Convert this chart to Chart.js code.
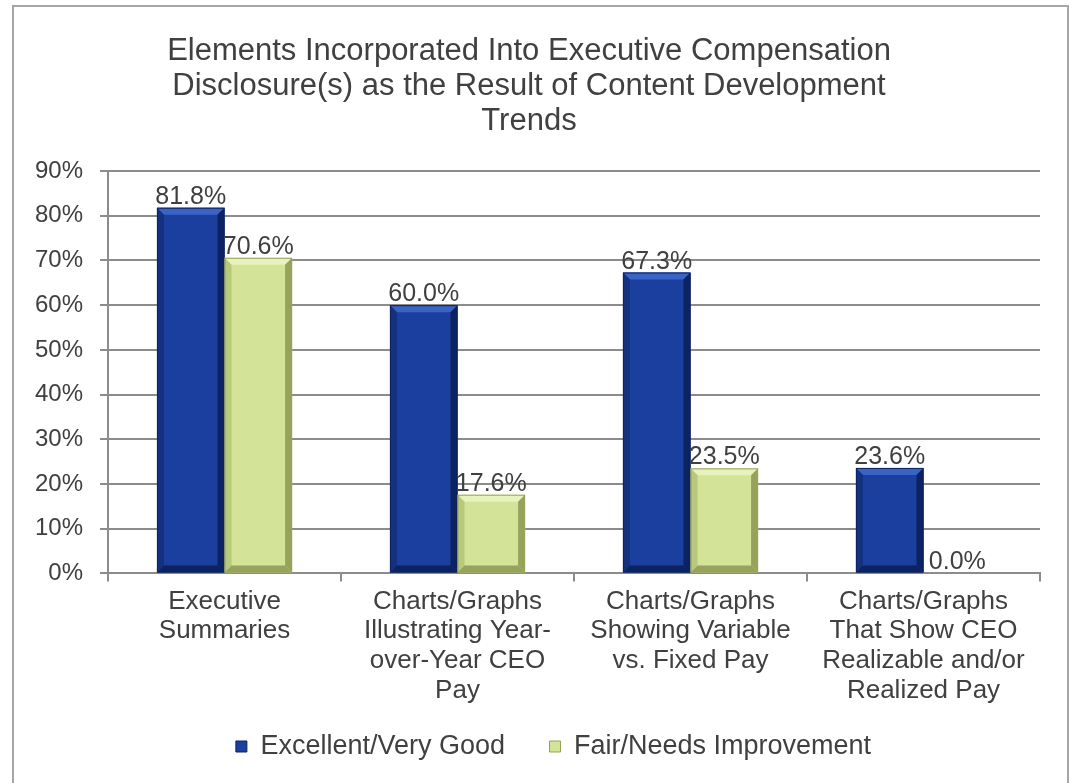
<!DOCTYPE html>
<html>
<head>
<meta charset="utf-8">
<script src="https://cdn.jsdelivr.net/npm/chart.js@4.4.1/dist/chart.umd.min.js"></script>
<style>
    html, body { margin: 0; padding: 0; background: #fff; }
    #wrap { width: 1069px; height: 783px; position: relative; }
</style>
</head>
<body>
<div id="wrap"><canvas id="chart"></canvas></div>
<script>
const categories = [
    ['Executive', 'Summaries'],
    ['Charts/Graphs', 'Illustrating Year-', 'over-Year CEO', 'Pay'],
    ['Charts/Graphs', 'Showing Variable', 'vs. Fixed Pay'],
    ['Charts/Graphs', 'That Show CEO', 'Realizable and/or', 'Realized Pay']
];
const excellent = [81.8, 60.0, 67.3, 23.6];
const fair = [70.6, 17.6, 23.5, 0.0];
const yTicks = [0, 10, 20, 30, 40, 50, 60, 70, 80, 90];

const textColor = '#404040';
const gridColor = '#8c8c8c';
const fontFamily = '"Liberation Sans", Arial, sans-serif';

// light, base, side, dark shades for the bevelled bars
const shades = [
    { light: '#3b63c4', base: '#1b3f9f', side: '#14317f', dark: '#0c2261' },
    { light: '#e8f2bd', base: '#d3e398', side: '#b9c97c', dark: '#97a35c' }
];

// frame round the whole chart
const framePlugin = {
    id: 'frame',
    beforeDraw(chart) {
        const ctx = chart.ctx;
        ctx.save();
        ctx.strokeStyle = '#a6a6a6';
        ctx.lineWidth = 2;
        ctx.strokeRect(13, 6, 1055, 800);
        ctx.restore();
    }
};

// legend sits a bit right of the plot centre in the original
const legendShift = {
    id: 'legendShift',
    afterLayout(chart) {
        if (chart.legend) chart.legend.left += 49;
    }
};

// bevel edges on the bars
const bevelPlugin = {
    id: 'bevel',
    afterDatasetsDraw(chart) {
        const ctx = chart.ctx;
        chart.data.datasets.forEach((ds, i) => {
            const meta = chart.getDatasetMeta(i);
            const c = shades[i];
            meta.data.forEach(bar => {
                const l = bar.x - bar.width / 2, r = bar.x + bar.width / 2;
                const t = bar.y, b = bar.base;
                const h = b - t;
                if (h < 2) return;
                const e = Math.min(7, h / 2);
                ctx.save();
                const quad = (pts, col) => {
                    ctx.beginPath();
                    ctx.moveTo(pts[0][0], pts[0][1]);
                    for (let k = 1; k < pts.length; k++) ctx.lineTo(pts[k][0], pts[k][1]);
                    ctx.closePath();
                    ctx.fillStyle = col;
                    ctx.fill();
                };
                quad([[l, t], [r, t], [r - e, t + e], [l + e, t + e]], c.light);
                quad([[l, t], [l + e, t + e], [l + e, b - e], [l, b]], c.side);
                quad([[r, t], [r - e, t + e], [r - e, b - e], [r, b]], c.dark);
                quad([[l, b], [l + e, b - e], [r - e, b - e], [r, b]], c.dark);
                ctx.strokeStyle = c.dark;
                ctx.lineWidth = 1;
                ctx.strokeRect(l + 0.5, t + 0.5, r - l - 1, h - 1);
                ctx.restore();
            });
        });
    }
};

// value labels above bars
const valueLabels = {
    id: 'valueLabels',
    afterDatasetsDraw(chart) {
        const ctx = chart.ctx;
        ctx.save();
        ctx.font = '25px ' + fontFamily;
        ctx.fillStyle = textColor;
        ctx.textAlign = 'center';
        ctx.textBaseline = 'alphabetic';
        chart.data.datasets.forEach((ds, i) => {
            chart.getDatasetMeta(i).data.forEach((bar, j) => {
                ctx.fillText(ds.data[j].toFixed(1) + '%', bar.x, bar.y - 4);
            });
        });
        ctx.restore();
    }
};

new Chart(document.getElementById('chart'), {
    type: 'bar',
    data: {
        labels: categories,
        datasets: [{
            label: 'Excellent/Very Good',
            data: excellent,
            backgroundColor: shades[0].base,
            borderWidth: 0
        }, {
            label: 'Fair/Needs Improvement',
            data: fair,
            backgroundColor: shades[1].base,
            borderWidth: 0
        }]
    },
    options: {
        responsive: true,
        maintainAspectRatio: false,
        animation: false,
        layout: { padding: { left: 18, right: 29, top: 34, bottom: 13 } },
        datasets: { bar: { barPercentage: 1, categoryPercentage: 0.58 } },
        plugins: {
            title: {
                display: true,
                text: ['Elements Incorporated Into Executive Compensation',
                       'Disclosure(s) as the Result of Content Development',
                       'Trends'],
                color: textColor,
                font: { family: fontFamily, size: 31, weight: 'normal', lineHeight: 1.13 },
                padding: { top: 0, bottom: 32 }
            },
            legend: {
                position: 'bottom',
                labels: {
                    color: textColor,
                    font: { family: fontFamily, size: 27 },
                    boxWidth: 11,
                    boxHeight: 11,
                    padding: 22,
                    generateLabels(chart) {
                        return chart.data.datasets.map((ds, i) => ({
                            // trailing spaces widen the gap between the two items
                            text: i === 0 ? ds.label + '   ' : ds.label,
                            fillStyle: shades[i].base,
                            strokeStyle: shades[i].dark,
                            lineWidth: 1,
                            fontColor: textColor,
                            datasetIndex: i
                        }));
                    }
                }
            },
            tooltip: { enabled: false }
        },
        scales: {
            x: {
                grid: { drawOnChartArea: false, color: gridColor, tickLength: 8, lineWidth: 2 },
                border: { color: gridColor, width: 2 },
                ticks: {
                    color: textColor,
                    font: { family: fontFamily, size: 26, lineHeight: 1.15 },
                    maxRotation: 0,
                    autoSkip: false,
                    padding: 5
                }
            },
            y: {
                min: 0,
                max: 90,
                afterBuildTicks(axis) {
                    axis.ticks = yTicks.map(v => ({ value: v }));
                },
                grid: { color: gridColor, tickLength: 8, lineWidth: 2 },
                border: { color: gridColor, width: 2 },
                ticks: {
                    color: textColor,
                    font: { family: fontFamily, size: 24 },
                    padding: 17,
                    callback: v => v + '%'
                }
            }
        }
    },
    plugins: [framePlugin, legendShift, bevelPlugin, valueLabels]
});
</script>
</body>
</html>
